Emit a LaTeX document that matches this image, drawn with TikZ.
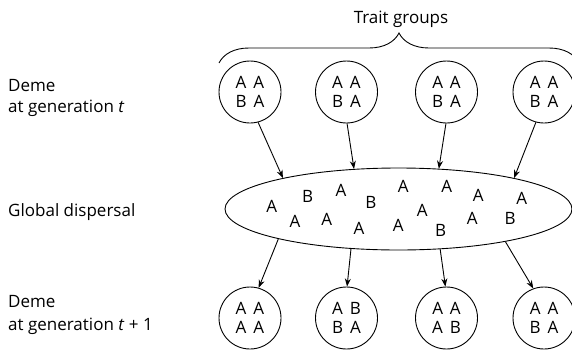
\documentclass[tikz,border=0pt]{standalone}
\usepackage{fontspec}
\setmainfont{Open Sans}
\usetikzlibrary{shapes.geometric,arrows.meta,decorations.pathreplacing}
\newcommand{\ag}{\hspace{7pt}}
\begin{document}
\begin{tikzpicture}[x=1pt,y=-1pt,
  every node/.style={font=\fontsize{17}{18.5}\selectfont},
  deme/.style={draw, circle, line width=0.9pt, minimum size=62pt, inner sep=0pt, align=center},
  pool/.style={draw, ellipse, line width=0.9pt, minimum width=347pt, minimum height=82pt, inner sep=0pt},
  label/.style={anchor=base west, inner sep=0pt, align=left, font=\fontsize{17}{21}\selectfont},
  allele/.style={inner sep=0pt},
  flow/.style={line width=0.9pt, -{Stealth[length=8pt,width=6pt]}},
  groupbrace/.style={line width=0.9pt, decorate, decoration={brace, amplitude=30pt}}]
\useasboundingbox (0,0) rectangle (572,351);

% row labels
\node[label] (l1) at (8,91) {Deme};
\node[label] (l1b) at (8,112) {at generation \textit{t}};
\node[label] (l2) at (8,216) {Global dispersal};
\node[label] (l3) at (8,307) {Deme};
\node[label] (l3b) at (8,330) {at generation \textit{t} + 1};

% trait groups and their brace
\node[anchor=base, inner sep=0pt] (tg) at (401,23) {Trait groups};
\coordinate (bl) at (219,63);
\coordinate (br) at (579,63);
\draw[groupbrace] (bl) -- (br);

% demes at generation t
\node[deme] (t1) at (250,92) {A\ag A\\B\ag A};
\node[deme] (t2) at (346.5,92) {A\ag A\\B\ag A};
\node[deme] (t3) at (446.5,92) {A\ag A\\B\ag A};
\node[deme] (t4) at (544,92) {A\ag A\\B\ag A};

% global pool
\node[pool] (e) at (398.5,209) {};
\foreach \n/\x/\y/\s in {
  a1/271.7/206.7/A, a2/307.7/196/B, a3/341/190.7/A, a4/371/202.7/B,
  a5/403.3/186.7/A, a6/446.7/186.7/A, a7/478.3/195.7/A, a8/521.7/198.3/A,
  b1/295/221/A, b2/326.7/219/A, b3/359/228.3/A, b4/398.3/225/A,
  b5/422.3/210/A, b6/440.7/230/B, b7/472.3/218.3/A, b8/510/218.3/B}
  \node[allele] (\n) at (\x,\y) {\s};

% demes at generation t+1
\node[deme] (n1) at (250,318) {A\ag A\\A\ag A};
\node[deme] (n2) at (346.5,318) {A\ag B\\B\ag A};
\node[deme] (n3) at (446.5,318) {A\ag A\\A\ag B};
\node[deme] (n4) at (544,318) {A\ag A\\B\ag A};

% dispersal into the pool
\draw[flow] (t1.-75) -- (e.165);
\draw[flow] (t2.-89) -- (e.138);
\draw[flow] (t3.-91) -- (e.45);
\draw[flow] (t4.-105) -- (e.15);

% recolonisation from the pool
\draw[flow] (e.194) -- (n1.74);
\draw[flow] (e.220.7) -- (n2.89);
\draw[flow] (e.316) -- (n3.92);
\draw[flow] (e.343) -- (n4.110);
\end{tikzpicture}
\end{document}
